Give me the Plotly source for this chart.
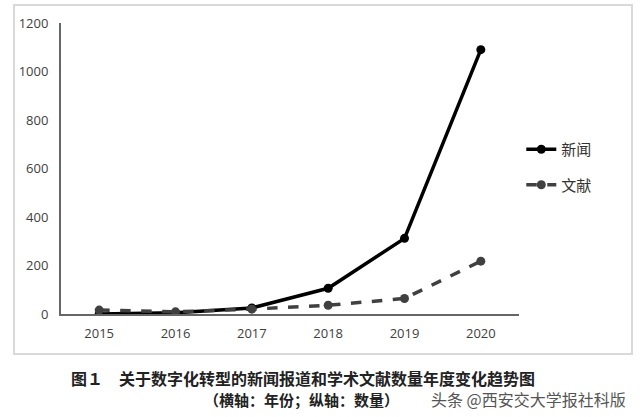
import plotly.graph_objects as go

years = ["2015", "2016", "2017", "2018", "2019", "2020"]
news = [0, 5, 25, 106, 312, 1090]
papers = [16, 9, 20, 36, 64, 218]
series_names = ["新闻", "文献"]
y_ticks = [0, 200, 400, 600, 800, 1000, 1200]
caption1 = "图１　关于数字化转型的新闻报道和学术文献数量年度变化趋势图"
caption2 = "（横轴：年份；纵轴：数量）"
watermark = "头条 @西安交大学报社科版"

fig = go.Figure()
fig.add_trace(go.Scatter(
    x=years, y=news, name=series_names[0], mode="lines+markers",
    line=dict(color="#000000", width=3.5),
    marker=dict(color="#000000", size=9), legendgroup="a"))
fig.add_trace(go.Scatter(
    x=years, y=papers, name=series_names[1], mode="lines+markers",
    line=dict(color="#404040", width=3.5, dash="dash"),
    marker=dict(color="#404040", size=9), legendgroup="b"))

fig.update_layout(
    width=640, height=417,
    margin=dict(l=61, r=121, t=23, b=103),
    paper_bgcolor="white", plot_bgcolor="white",
    font=dict(family="Open Sans, Liberation Sans, sans-serif", color="#404040"),
    showlegend=True,
    legend=dict(x=1.005, xanchor="left", y=0.505, yanchor="middle",
                font=dict(size=15, color="#333333", family="Noto Sans CJK SC"),
                tracegroupgap=13, traceorder="grouped", bgcolor="rgba(0,0,0,0)"),
    xaxis=dict(type="category", range=[-0.5, 5.5], showgrid=False,
               showline=True, linecolor="#666666", linewidth=2,
               ticks="outside", ticklen=6, tickcolor="rgba(0,0,0,0)",
               tickfont=dict(size=13, color="#404040"), zeroline=False),
    yaxis=dict(range=[0, 1200], tickvals=y_ticks, showgrid=False,
               showline=True, linecolor="#666666", linewidth=2,
               ticks="outside", ticklen=8, tickcolor="rgba(0,0,0,0)",
               tickfont=dict(size=13, color="#404040"), zeroline=False),
)

# chart outer border
fig.add_shape(type="rect", xref="paper", yref="paper",
              x0=(14 - 61) / 458, x1=(632 - 61) / 458,
              y0=(314 - 354) / 291, y1=(314 - 5) / 291,
              line=dict(color="#d9d9d9", width=2), fillcolor="rgba(0,0,0,0)", layer="below")

fig.add_annotation(text=caption1, xref="paper", yref="paper",
                   x=(303 - 61) / 458, y=(314 - 378) / 291, showarrow=False,
                   font=dict(size=16, color="#222222", family="Noto Sans CJK SC", weight="bold"),
                   xanchor="center", yanchor="middle")
fig.add_annotation(text=caption2, xref="paper", yref="paper",
                   x=(301 - 61) / 458, y=(314 - 399) / 291, showarrow=False,
                   font=dict(size=15, color="#222222", family="Noto Sans CJK SC", weight="bold"),
                   xanchor="center", yanchor="middle")
fig.add_annotation(text=watermark, xref="paper", yref="paper",
                   x=(628 - 61) / 458, y=(314 - 399) / 291, showarrow=False,
                   font=dict(size=16, color="#555555", family="Noto Sans CJK SC"),
                   xanchor="right", yanchor="middle")

fig.write_html("out.html")
